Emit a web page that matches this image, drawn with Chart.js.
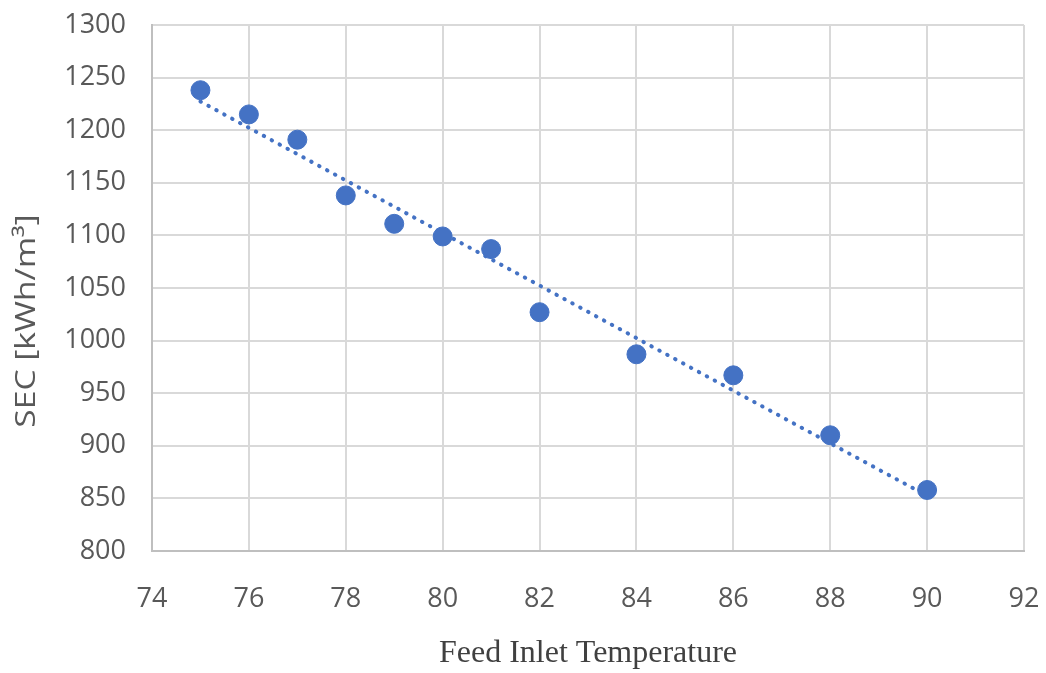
<!DOCTYPE html>
<html>
<head>
<meta charset="utf-8">
<script src="https://cdn.jsdelivr.net/npm/chart.js@4/dist/chart.umd.min.js"></script>
<style>
  html, body { margin: 0; padding: 0; background: #ffffff; }
  #wrap { width: 1046px; height: 673px; position: relative; }
</style>
</head>
<body>
<div id="wrap"><canvas id="chart" width="1046" height="673"></canvas></div>
<script>
// Feed inlet temperature and specific energy consumption
const temperatures = [75, 76, 77, 78, 79, 80, 81, 82, 84, 86, 88, 90];
const secValues = [1238, 1215, 1191, 1138, 1111, 1099, 1087, 1027, 987, 967, 910, 858];

// Axis ranges
const xRange = { min: 74, max: 92, step: 2 };
const yRange = { min: 800, max: 1300, step: 50 };

const xTitle = 'Feed Inlet Temperature';
const yTitle = 'SEC [kWh/m³]';

// Least-squares linear trend through the measured points
function linearFit(xs, ys) {
  const n = xs.length;
  const mx = xs.reduce((a, b) => a + b, 0) / n;
  const my = ys.reduce((a, b) => a + b, 0) / n;
  let sxy = 0, sxx = 0;
  for (let i = 0; i < n; i++) {
    sxy += (xs[i] - mx) * (ys[i] - my);
    sxx += (xs[i] - mx) * (xs[i] - mx);
  }
  const slope = sxy / sxx;
  return x => my + slope * (x - mx);
}
const trend = linearFit(temperatures, secValues);
const trendX = [temperatures[0], temperatures[temperatures.length - 1]];
const trendPoints = trendX.map(x => ({ x: x, y: trend(x) }));

const scatterPoints = temperatures.map((t, i) => ({ x: t, y: secValues[i] }));

const blue = '#4472C4';
const tickColor = '#595959';

// Rotated y-axis caption
const yCaption = {
  id: 'yCaption',
  afterDraw(chart) {
    const ctx = chart.ctx;
    ctx.save();
    ctx.translate(27, 321);
    ctx.rotate(-Math.PI / 2);
    ctx.scale(1.2, 1);
    ctx.font = '28px "Open Sans"';
    ctx.fillStyle = tickColor;
    ctx.textAlign = 'center';
    ctx.textBaseline = 'middle';
    ctx.fillText(yTitle, 0, 0);
    ctx.restore();
  }
};

const plainNumber = v => String(v);

new Chart(document.getElementById('chart'), {
  type: 'scatter',
  data: {
    datasets: [
      {
        label: 'SEC',
        data: scatterPoints,
        backgroundColor: blue,
        borderColor: blue,
        pointRadius: 9.5,
        pointHoverRadius: 9.5,
        order: 0
      },
      {
        label: 'Linear trend',
        type: 'line',
        data: trendPoints,
        borderColor: blue,
        borderWidth: 4,
        borderDash: [0.5, 8.5],
        borderCapStyle: 'round',
        pointRadius: 0,
        fill: false,
        order: 1
      }
    ]
  },
  options: {
    responsive: false,
    animation: false,
    layout: { padding: { left: 0, right: 22, top: 25, bottom: 0 } },
    plugins: {
      legend: { display: false },
      tooltip: { enabled: false }
    },
    scales: {
      x: {
        type: 'linear',
        min: xRange.min,
        max: xRange.max,
        afterFit(scale) {
          scale.height = 122;
          scale.paddingLeft = 0;
          scale.paddingRight = 0;
        },
        ticks: {
          stepSize: xRange.step,
          color: tickColor,
          font: { family: '"Open Sans"', size: 27 },
          padding: 32,
          callback: plainNumber
        },
        grid: { color: '#d9d9d9', lineWidth: 2, drawTicks: false },
        border: { color: '#bfbfbf', width: 2 },
        title: {
          display: true,
          text: xTitle,
          color: '#404040',
          font: { family: '"Liberation Serif"', size: 32 },
          padding: { top: 0, bottom: 0 }
        }
      },
      y: {
        type: 'linear',
        min: yRange.min,
        max: yRange.max,
        afterFit(scale) {
          scale.width = 152;
          scale.paddingTop = 0;
          scale.paddingBottom = 0;
        },
        ticks: {
          stepSize: yRange.step,
          color: tickColor,
          font: { family: '"Open Sans"', size: 27 },
          padding: 26,
          callback: plainNumber
        },
        grid: { color: '#d9d9d9', lineWidth: 2, drawTicks: false },
        border: { color: '#bfbfbf', width: 2 }
      }
    }
  },
  plugins: [yCaption]
});
</script>
</body>
</html>
